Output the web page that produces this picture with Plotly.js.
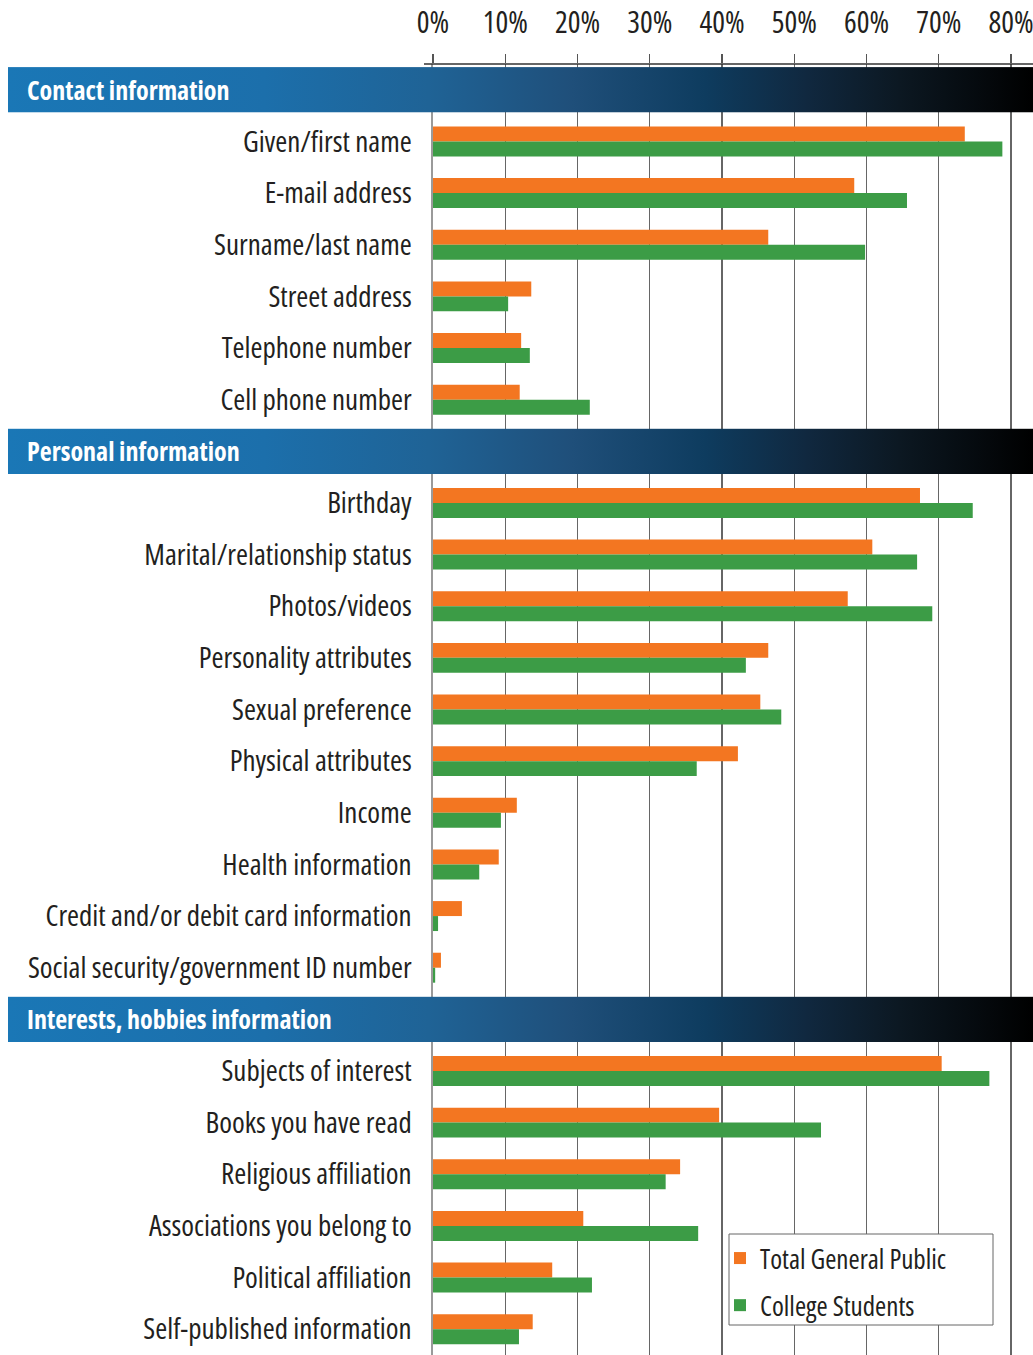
<!DOCTYPE html>
<html>
<head>
<meta charset="utf-8">
<script src="https://cdn.plot.ly/plotly-3.0.1.min.js"></script>
<style>
html,body{margin:0;padding:0;background:#fff;}
#chart{width:1033px;height:1355px;}
text{font-stretch:condensed !important;}
</style>
</head>
<body>
<div id="chart"></div>
<script>
// ---- data ----
const sections = ['Contact information', 'Personal information', 'Interests, hobbies information'];
const sectionSizes = [6, 10, 6];
const categories = [
  'Given/first name', 'E-mail address', 'Surname/last name', 'Street address', 'Telephone number', 'Cell phone number',
  'Birthday', 'Marital/relationship status', 'Photos/videos', 'Personality attributes', 'Sexual preference',
  'Physical attributes', 'Income', 'Health information', 'Credit and/or debit card information', 'Social security/government ID number',
  'Subjects of interest', 'Books you have read', 'Religious affiliation', 'Associations you belong to', 'Political affiliation', 'Self-published information'
];
const generalPublic = [73.6, 58.3, 46.4, 13.6, 12.2, 12.0, 67.4, 60.8, 57.4, 46.4, 45.3, 42.2, 11.6, 9.1, 4.0, 1.1, 70.4, 39.6, 34.2, 20.8, 16.5, 13.8];
const collegeStudents = [78.8, 65.6, 59.8, 10.4, 13.4, 21.7, 74.7, 67.0, 69.1, 43.3, 48.2, 36.5, 9.4, 6.4, 0.7, 0.3, 77.0, 53.7, 32.2, 36.7, 22.0, 11.9];
const seriesNames = ['Total General Public', 'College Students'];
const xTicks = [0, 10, 20, 30, 40, 50, 60, 70, 80];
const xTickLabels = ['0%', '10%', '20%', '30%', '40%', '50%', '60%', '70%', '80%'];

// ---- slots: header rows + category rows ----
const headerSlots = [];
const rowSlots = [];
let slot = 0;
sections.forEach((s, i) => {
  headerSlots.push(slot); slot++;
  for (let k = 0; k < sectionSizes[i]; k++) { rowSlots.push(slot); slot++; }
});
const nSlots = slot;
const boundaries = [];
for (let k = 0; k <= nSlots; k++) boundaries.push(k - 0.5);

const FONT = '"Open Sans", "Roboto Condensed", sans-serif';
const TXT = '#231f20';
const ORANGE = '#f37621';
const GREEN = '#3c9c46';

const traces = [
  {type: 'bar', orientation: 'h', name: seriesNames[0], x: generalPublic, y: rowSlots,
   marker: {color: ORANGE, line: {width: 0}}, legendgroup: 'a', hoverinfo: 'x+name'},
  {type: 'bar', orientation: 'h', name: seriesNames[1], x: collegeStudents, y: rowSlots,
   marker: {color: GREEN, line: {width: 0}}, legendgroup: 'b', hoverinfo: 'x+name'}
];

// gradient band image
const svg = '<svg xmlns="http://www.w3.org/2000/svg" width="1025" height="46" preserveAspectRatio="none">' +
  '<defs><linearGradient id="g" x1="0" y1="0" x2="1" y2="0">' +
  '<stop offset="0" stop-color="#1a77b6"/>' +
  '<stop offset="0.25" stop-color="#1c6fab"/>' +
  '<stop offset="0.41" stop-color="#1f6396"/>' +
  '<stop offset="0.55" stop-color="#1f4f7a"/>' +
  '<stop offset="0.68" stop-color="#0e3c5f"/>' +
  '<stop offset="0.78" stop-color="#10283f"/>' +
  '<stop offset="0.87" stop-color="#0c1822"/>' +
  '<stop offset="1" stop-color="#000000"/>' +
  '</linearGradient></defs><rect x="0" y="0" width="1025" height="46" fill="url(#g)"/></svg>';
const bandSrc = 'data:image/svg+xml;charset=utf-8,' + encodeURIComponent(svg);

const W = 1033, H = 1355, ML = 433, MT = 64;
const plotW = W - ML, plotH = H - MT;
const bandLeft = (8 - ML) / plotW;
const textLeft = (25 - ML) / plotW;

const images = headerSlots.map(h => ({
  source: bandSrc, xref: 'paper', yref: 'y', x: bandLeft, y: h, sizex: 1 - bandLeft, sizey: 0.88,
  xanchor: 'left', yanchor: 'middle', sizing: 'stretch', layer: 'above'
}));

const annotations = headerSlots.map((h, i) => ({
  text: sections[i], xref: 'paper', yref: 'y', x: textLeft, y: h, xanchor: 'left', yanchor: 'middle',
  showarrow: false, font: {family: FONT, size: 26, color: '#ffffff', weight: 'bold'}
}));

const layout = {
  width: W, height: H,
  margin: {l: ML, r: 0, t: MT, b: 0, pad: 0},
  paper_bgcolor: '#ffffff', plot_bgcolor: '#ffffff',
  font: {family: FONT, color: TXT, size: 28},
  barmode: 'group', bargap: 0.42, bargroupgap: 0,
  showlegend: true,
  legend: {
    x: (720 - ML) / plotW, y: (H - 1234) / plotH, xanchor: 'left', yanchor: 'top',
    bgcolor: 'rgba(0,0,0,0)', borderwidth: 0,
    font: {family: FONT, size: 27, color: TXT}, traceorder: 'grouped', tracegroupgap: 9
  },
  xaxis: {
    side: 'top', range: [0, 83.04], tickmode: 'array', tickvals: xTicks, ticktext: xTickLabels,
    showgrid: true, gridcolor: '#666666', gridwidth: 1.2, zeroline: false,
    ticks: 'outside', ticklen: 9, tickcolor: '#555555', tickwidth: 1.2, ticklabeloverflow: 'allow',
    showline: false, tickfont: {family: FONT, size: 30, color: TXT}, ticklabelstandoff: 9, fixedrange: true
  },
  yaxis: {
    range: [nSlots - 0.5, -0.5], tickmode: 'array', tickvals: rowSlots, ticktext: categories,
    ticks: '', showgrid: false, zeroline: false, showline: true, linecolor: '#9a9a9a', linewidth: 2.5,
    tickfont: {family: FONT, size: 29, color: TXT}, ticklabelstandoff: 13, fixedrange: true
  },
  yaxis2: {
    overlaying: 'y', side: 'left', range: [nSlots - 0.5, -0.5], tickmode: 'array', tickvals: boundaries,
    ticks: 'outside', ticklen: 9, tickwidth: 2, tickcolor: '#333333', showticklabels: false,
    showgrid: false, zeroline: false, showline: false, fixedrange: true
  },
  shapes: [
    {type: 'line', xref: 'paper', yref: 'paper', x0: (424 - ML) / plotW, x1: 1, y0: 1, y1: 1,
     line: {color: '#333333', width: 1.5}},
    // legend frame
    {type: 'rect', xref: 'paper', yref: 'paper', layer: 'above',
     x0: (729 - ML) / plotW, x1: (993 - ML) / plotW, y0: (H - 1325) / plotH, y1: (H - 1234) / plotH,
     fillcolor: '#ffffff', line: {color: '#666666', width: 1}}
  ],
  images: images,
  annotations: annotations
};

Plotly.newPlot('chart', traces, layout, {displayModeBar: false, staticPlot: true});
</script>
</body>
</html>
